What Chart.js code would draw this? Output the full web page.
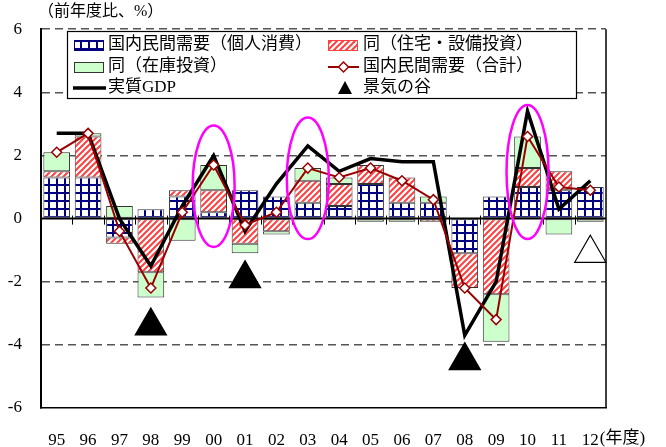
<!DOCTYPE html>
<html lang="ja">
<head>
<meta charset="utf-8">
<title>国内民間需要の寄与度</title>
<script src="https://cdn.jsdelivr.net/npm/chart.js@4.4.1/dist/chart.umd.min.js"></script>
<style>
  html, body { margin: 0; padding: 0; background: #fff; }
  #wrap { width: 666px; height: 447px; }
</style>
</head>
<body>
<div id="wrap"><canvas id="chart" width="666" height="447"></canvas></div>
<script>
// 年度
const years = ['95', '96', '97', '98', '99', '00', '01', '02', '03', '04', '05', '06', '07', '08', '09', '10', '11', '12'];
// 寄与度（前年度比、%）
const consumption = [1.3, 1.3, -0.6, 0.3, 0.7, 0.2, 0.9, 0.7, 0.5, 0.4, 1.1, 0.5, 0.5, -1.1, 0.7, 1.0, 0.9, 1.0];
const investment = [0.2, 1.3, -0.2, -1.7, 0.2, 0.7, -0.8, -0.4, 0.7, 0.7, 0.6, 0.8, -0.1, -1.1, -2.4, 0.6, 0.6, 0.0];
const inventory = [0.6, 0.1, 0.4, -0.8, -0.7, 0.8, -0.3, -0.1, 0.4, 0.2, -0.1, -0.1, 0.2, 0.0, -1.5, 1.0, -0.5, -0.1];
const privateTotal = [2.1, 2.7, -0.4, -2.2, 0.2, 1.7, -0.2, 0.2, 1.6, 1.3, 1.6, 1.2, 0.6, -2.2, -3.2, 2.6, 1.0, 0.9];
const realGdp = [2.7, 2.7, 0.0, -1.5, 0.4, 2.0, -0.4, 1.1, 2.3, 1.5, 1.9, 1.8, 1.8, -3.7, -2.0, 3.4, 0.3, 1.2];
// 景気の谷（12年度は白抜き）
const troughYears = ['98', '01', '08', '12'];
const troughLevel = [-3.4, -1.9, -4.5, -1.1];
const troughFilled = [true, true, true, false];
// 丸で囲む年度とその上下端
const circledYears = ['00', '03', '10'];
const circledTop = [2.95, 3.2, 3.6];
const circledBottom = [-0.9, -0.65, -0.65];
// 縦軸
const yTicks = [-6, -4, -2, 0, 2, 4, 6];

const FONT = "'Liberation Serif', 'Noto Sans CJK JP', serif";
const canvas = document.getElementById('chart');
const ctx0 = canvas.getContext('2d');

function gridPattern() {
  const c = document.createElement('canvas');
  c.width = 8; c.height = 8;
  const g = c.getContext('2d');
  g.fillStyle = '#fff';
  g.fillRect(0, 0, 8, 8);
  g.fillStyle = '#000080';
  g.fillRect(0, 0, 8, 2);
  g.fillRect(0, 0, 2, 8);
  return ctx0.createPattern(c, 'repeat');
}

function hatchPattern() {
  const c = document.createElement('canvas');
  c.width = 6; c.height = 6;
  const g = c.getContext('2d');
  g.fillStyle = '#fff';
  g.fillRect(0, 0, 6, 6);
  g.strokeStyle = '#ff4040';
  g.lineWidth = 2;
  g.beginPath();
  g.moveTo(-1, 7); g.lineTo(7, -1);
  g.moveTo(-1, 1); g.lineTo(1, -1);
  g.moveTo(5, 7); g.lineTo(7, 5);
  g.stroke();
  return ctx0.createPattern(c, 'repeat');
}

const blueGrid = gridPattern();
const redHatch = hatchPattern();
const GREEN = '#ccffcc';
const DARKRED = '#990000';

const troughData = years.map(y => {
  const i = troughYears.indexOf(y);
  return i < 0 ? null : troughLevel[i];
});
const troughFill = years.map(y => {
  const i = troughYears.indexOf(y);
  return i >= 0 && !troughFilled[i] ? '#fff' : '#000';
});

// 0 の実線と区切りの目盛り（棒の上に描く）
const zeroLine = {
  id: 'zeroLine',
  afterDatasetDraw(chart, args) {
    if (args.index !== 0) return;
    const { ctx, chartArea, scales: { x, y } } = chart;
    const y0 = y.getPixelForValue(0);
    ctx.save();
    ctx.strokeStyle = '#000';
    ctx.lineWidth = 2;
    ctx.beginPath();
    ctx.moveTo(chartArea.left, y0);
    ctx.lineTo(chartArea.right, y0);
    ctx.stroke();
    ctx.lineWidth = 1;
    ctx.beginPath();
    for (let i = 1; i < years.length; i++) {
      const bx = Math.round((x.getPixelForValue(i - 1) + x.getPixelForValue(i)) / 2) + 0.5;
      ctx.moveTo(bx, y0 - 3);
      ctx.lineTo(bx, y0 + 6);
    }
    ctx.stroke();
    ctx.restore();
  }
};

// 囲み、右枠、見出し、凡例
const decorations = {
  id: 'decorations',
  afterDatasetsDraw(chart) {
    const { ctx, scales: { x, y } } = chart;
    ctx.save();
    ctx.strokeStyle = '#ff00ff';
    ctx.lineWidth = 2.5;
    circledYears.forEach((yr, k) => {
      const cx = x.getPixelForValue(years.indexOf(yr));
      const top = y.getPixelForValue(circledTop[k]);
      const bot = y.getPixelForValue(circledBottom[k]);
      ctx.beginPath();
      ctx.ellipse(cx, (top + bot) / 2, 21, (bot - top) / 2, 0, 0, Math.PI * 2);
      ctx.stroke();
    });
    ctx.restore();
  },
  afterDraw(chart) {
    const { ctx, chartArea, scales: { x } } = chart;
    ctx.save();
    // 右枠
    ctx.strokeStyle = '#000';
    ctx.lineWidth = 1.5;
    ctx.beginPath();
    ctx.moveTo(chartArea.right, chartArea.top);
    ctx.lineTo(chartArea.right, chartArea.bottom);
    ctx.stroke();

    ctx.fillStyle = '#000';
    ctx.textBaseline = 'middle';
    ctx.font = '16px ' + FONT;
    ctx.fillText('（前年度比、%）', 38, 12);

    // 最後の年度の後ろに単位
    ctx.font = '17px ' + FONT;
    const lastX = x.getPixelForValue(years.length - 1);
    const w = ctx.measureText(years[years.length - 1]).width;
    ctx.textBaseline = 'top';
    ctx.fillText('(年度)', lastX + w / 2 + 1, chartArea.bottom + 22);

    // 凡例
    const bx = 67, by = 31, bw = 509, bh = 67;
    ctx.fillStyle = '#fff';
    ctx.fillRect(bx, by, bw, bh);
    ctx.strokeStyle = '#000';
    ctx.lineWidth = 1.2;
    ctx.strokeRect(bx + 0.5, by + 0.5, bw, bh);

    const rows = [45, 67, 88];
    const col1 = 74, col2 = 328;
    const swatch = (cx, cy, fill, stroke) => {
      ctx.fillStyle = fill;
      ctx.fillRect(cx, cy - 5, 30, 11);
      ctx.strokeStyle = stroke;
      ctx.lineWidth = 1;
      ctx.strokeRect(cx + 0.5, cy - 5 + 0.5, 29, 10);
    };
    swatch(col1, rows[0], blueGrid, '#000080');
    swatch(col2, rows[0], redHatch, '#ff4040');
    swatch(col1, rows[1], GREEN, '#333');

    ctx.strokeStyle = DARKRED;
    ctx.lineWidth = 2;
    ctx.beginPath();
    ctx.moveTo(col2, rows[1]);
    ctx.lineTo(col2 + 31, rows[1]);
    ctx.stroke();
    const dx = col2 + 15.5, dy = rows[1];
    ctx.fillStyle = '#fff';
    ctx.lineWidth = 1.5;
    ctx.beginPath();
    ctx.moveTo(dx, dy - 5); ctx.lineTo(dx + 5, dy); ctx.lineTo(dx, dy + 5); ctx.lineTo(dx - 5, dy);
    ctx.closePath();
    ctx.fill();
    ctx.stroke();

    ctx.strokeStyle = '#000';
    ctx.lineWidth = 3.5;
    ctx.beginPath();
    ctx.moveTo(col1 - 1, rows[2]);
    ctx.lineTo(col1 + 32, rows[2]);
    ctx.stroke();

    ctx.fillStyle = '#000';
    ctx.beginPath();
    ctx.moveTo(col2 + 17, rows[2] - 7);
    ctx.lineTo(col2 + 24, rows[2] + 6);
    ctx.lineTo(col2 + 10, rows[2] + 6);
    ctx.closePath();
    ctx.fill();

    ctx.font = '17px ' + FONT;
    ctx.textBaseline = 'middle';
    ctx.fillText('国内民間需要（個人消費）', 108, rows[0]);
    ctx.fillText('同（在庫投資）', 108, rows[1]);
    ctx.fillText('実質GDP', 108, rows[2]);
    ctx.fillText('同（住宅・設備投資）', 363, rows[0]);
    ctx.fillText('国内民間需要（合計）', 363, rows[1]);
    ctx.fillText('景気の谷', 363, rows[2]);
    ctx.restore();
  }
};

const barStyle = {
  type: 'bar',
  stack: 'demand',
  borderColor: '#333',
  borderWidth: 1,
  borderSkipped: false,
  barPercentage: 0.85,
  categoryPercentage: 1.0,
  order: 0
};

new Chart(canvas, {
  type: 'bar',
  data: {
    labels: years,
    datasets: [
      Object.assign({ label: '国内民間需要（個人消費）', data: consumption, backgroundColor: blueGrid }, barStyle),
      Object.assign({ label: '同（住宅・設備投資）', data: investment, backgroundColor: redHatch }, barStyle),
      Object.assign({ label: '同（在庫投資）', data: inventory, backgroundColor: GREEN }, barStyle),
      {
        type: 'line',
        label: '景気の谷',
        stack: 'trough',
        data: troughData,
        showLine: false,
        pointStyle: 'triangle',
        pointRadius: 18,
        pointBackgroundColor: troughFill,
        pointBorderColor: '#000',
        pointBorderWidth: 1.2,
        order: -1
      },
      {
        type: 'line',
        label: '実質GDP',
        stack: 'gdp',
        data: realGdp,
        borderColor: '#000',
        borderWidth: 3.5,
        pointRadius: 0,
        tension: 0,
        order: -2
      },
      {
        type: 'line',
        label: '国内民間需要（合計）',
        stack: 'total',
        data: privateTotal,
        borderColor: DARKRED,
        borderWidth: 2,
        pointStyle: 'rectRot',
        pointRadius: 5,
        pointBackgroundColor: '#fff',
        pointBorderColor: DARKRED,
        pointBorderWidth: 1.5,
        tension: 0,
        order: -3
      }
    ]
  },
  options: {
    responsive: false,
    animation: false,
    events: [],
    layout: { padding: { left: 0, right: 60, top: 25, bottom: 0 } },
    plugins: {
      legend: { display: false },
      tooltip: { enabled: false }
    },
    scales: {
      x: {
        stacked: true,
        grid: { display: false, drawTicks: false },
        border: { color: '#000', width: 1.5 },
        ticks: {
          color: '#000',
          font: { family: FONT, size: 17 },
          padding: 22,
          maxRotation: 0,
          autoSkip: false
        },
        afterFit(scale) { scale.height = 39; }
      },
      y: {
        stacked: true,
        min: -6,
        max: 6,
        afterBuildTicks(scale) { scale.ticks = yTicks.map(v => ({ value: v })); },
        grid: {
          drawTicks: false,
          lineWidth: 1.5,
          color: c => (c.tick && (c.tick.value === 0 || c.tick.value === -6)) ? 'rgba(0,0,0,0)' : '#555'
        },
        border: { color: '#000', width: 2, dash: [8, 5] },
        ticks: {
          color: '#000',
          font: { family: FONT, size: 17 },
          padding: 19
        },
        afterFit(scale) { scale.width = 41; }
      }
    }
  },
  plugins: [zeroLine, decorations]
});
</script>
</body>
</html>
